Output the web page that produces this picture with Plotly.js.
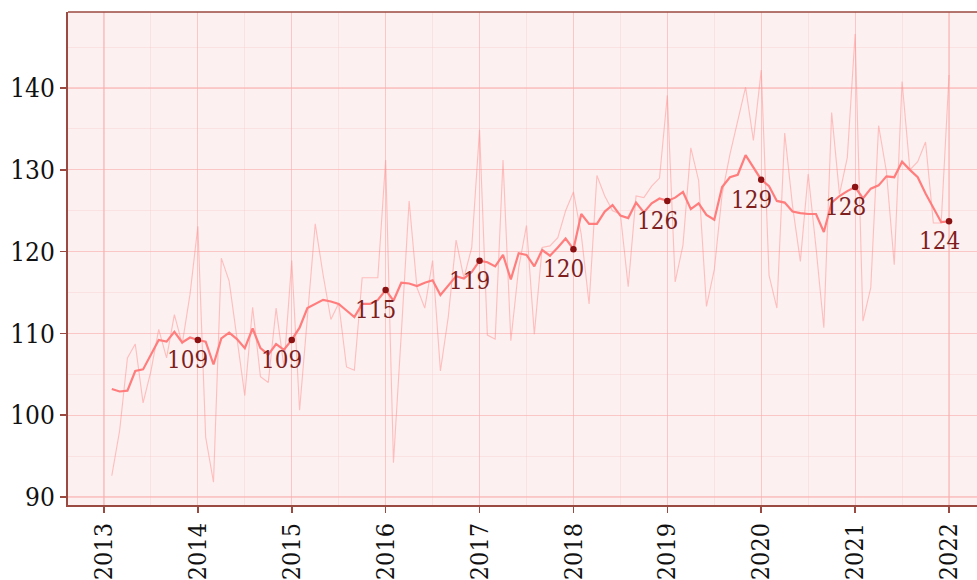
<!DOCTYPE html>
<html>
<head>
<meta charset="utf-8">
<script src="https://cdn.plot.ly/plotly-3.0.1.min.js"></script>
<style>html,body{margin:0;padding:0;background:#fff;}#chart{width:977px;height:580px;}</style>
</head>
<body>
<div id="chart"></div>
<script>
// Monthly series, February 2013 to January 2022
const startYear = 2013;
const startMonth = 2;
const rawValues = [
  92.6, 98.1, 107.0, 108.7, 101.5, 105.4, 110.5, 107.0, 112.3, 108.7, 114.8,
  123.1, 97.3, 91.8, 119.2, 116.4, 109.4, 102.4, 113.2, 104.7, 104.0, 113.1, 105.9,
  118.9, 100.6, 112.5, 123.4, 117.2, 111.7, 113.7, 105.9, 105.5, 116.8, 116.8, 116.8,
  131.2, 94.2, 110.0, 126.2, 115.6, 113.1, 118.9, 105.4, 112.0, 121.4, 116.8, 120.5,
  134.9, 109.8, 109.3, 131.2, 109.1, 118.0, 123.2, 109.9, 120.5, 120.7, 121.7, 125.0,
  127.3, 122.1, 113.6, 129.3, 126.8, 125.0, 124.6, 115.7, 126.8, 126.6, 128.0, 129.0,
  139.1, 116.3, 120.8, 132.7, 128.7, 113.3, 117.8, 127.0, 131.9, 136.0, 140.1, 133.6,
  142.2, 117.1, 113.1, 134.5, 125.6, 118.8, 129.5, 120.5, 110.7, 137.0, 127.0, 131.5,
  146.6, 111.5, 115.6, 135.4, 129.8, 118.4, 140.8, 130.0, 131.0, 133.4, 123.5, 123.5,
  141.6
];
const trendValues = [
  103.2, 102.9, 103.0, 105.4, 105.6, 107.4, 109.2, 109.0, 110.2, 108.9, 109.5,
  109.2, 109.0, 106.2, 109.4, 110.1, 109.3, 108.2, 110.6, 108.2, 107.4, 108.7, 108.0,
  109.2, 110.7, 113.1, 113.6, 114.1, 113.9, 113.6, 112.8, 112.0, 113.6, 113.6, 114.1,
  115.3, 114.0, 116.2, 116.1, 115.8, 116.2, 116.5, 114.7, 115.8, 117.0, 116.7, 117.5,
  118.9, 118.7, 118.2, 119.6, 116.6, 119.8, 119.6, 118.2, 120.2, 119.5, 120.5, 121.6,
  120.3, 124.6, 123.4, 123.4, 124.9, 125.7, 124.4, 124.1, 126.0, 124.8, 125.9, 126.5,
  126.2, 126.6, 127.3, 125.2, 125.9, 124.5, 123.9, 127.9, 129.1, 129.4, 131.8, 130.3,
  128.8, 128.0, 126.2, 126.0, 124.9, 124.7, 124.6, 124.6, 122.4, 126.0, 126.8, 127.4,
  127.9, 126.5, 127.7, 128.1, 129.2, 129.1, 131.0, 130.0, 129.1, 127.1, 125.4, 123.6,
  123.7
];
const xTickYears = [2013, 2014, 2015, 2016, 2017, 2018, 2019, 2020, 2021, 2022];
const yTickValues = [90, 100, 110, 120, 130, 140];

const xs = rawValues.map((_, i) => {
  const m = startMonth - 1 + i;
  return startYear + Math.floor(m / 12) + (m % 12) / 12;
});
const janX = [], janY = [];
xs.forEach((x, i) => {
  if (Math.abs(x - Math.round(x)) < 1e-9 && x > startYear) { janX.push(x); janY.push(trendValues[i]); }
});

const serifC = 'DejaVu Serif Condensed';
const gridMajor = 'rgba(250,175,175,0.55)';
const gridMinor = 'rgba(250,195,195,0.32)';
const axisCol = '#9a4a40';

const traces = [
  {x: xs, y: rawValues, type: 'scatter', mode: 'lines',
   line: {color: 'rgba(255,140,140,0.5)', width: 1.1}, hoverinfo: 'skip'},
  {x: xs, y: trendValues, type: 'scatter', mode: 'lines',
   line: {color: '#ff7d7d', width: 2.2}, hoverinfo: 'skip'},
  {x: janX, y: janY, type: 'scatter', mode: 'markers',
   marker: {color: '#8b1212', size: 6.5}, hoverinfo: 'skip'}
];

const annotations = janX.map((x, i) => ({
  x: x, y: janY[i], xref: 'x', yref: 'y',
  text: String(Math.round(janY[i])), showarrow: false,
  xshift: -10, yshift: -20,
  font: {family: serifC, size: 24, color: '#7d1f1f'}
}));

const layout = {
  width: 977, height: 580,
  margin: {l: 68, r: 0, t: 12, b: 75},
  paper_bgcolor: '#ffffff',
  plot_bgcolor: '#fdf0f0',
  showlegend: false,
  xaxis: {
    range: [2012.617, 2022.298],
    tickmode: 'array', tickvals: xTickYears, ticktext: xTickYears.map(String),
    tickangle: -90,
    tickfont: {family: serifC, size: 25, color: '#111'},
    ticks: 'outside', ticklen: 6, tickwidth: 1.5, tickcolor: axisCol,
    showline: true, linecolor: axisCol, linewidth: 2,
    showgrid: true, gridcolor: gridMajor, gridwidth: 1.2,
    minor: {dtick: 0.5, tick0: 2012.5, showgrid: true, gridcolor: gridMinor, gridwidth: 1},
    zeroline: false, fixedrange: true
  },
  yaxis: {
    range: [89.02, 149.3],
    tickmode: 'array', tickvals: yTickValues, ticktext: yTickValues.map(String),
    tickfont: {family: serifC, size: 26, color: '#111'},
    ticks: 'outside', ticklen: 6, tickwidth: 1.5, tickcolor: axisCol,
    showline: true, linecolor: axisCol, linewidth: 2,
    showgrid: true, gridcolor: gridMajor, gridwidth: 1.2,
    minor: {dtick: 5, tick0: 85, showgrid: true, gridcolor: gridMinor, gridwidth: 1},
    zeroline: false, fixedrange: true
  },
  shapes: [
    {type: 'line', xref: 'paper', yref: 'paper', x0: 0, x1: 1, y0: 1, y1: 1,
     line: {color: axisCol, width: 1.5}}
  ],
  annotations: annotations
};

Plotly.newPlot('chart', traces, layout, {displayModeBar: false, staticPlot: true});
</script>
</body>
</html>
